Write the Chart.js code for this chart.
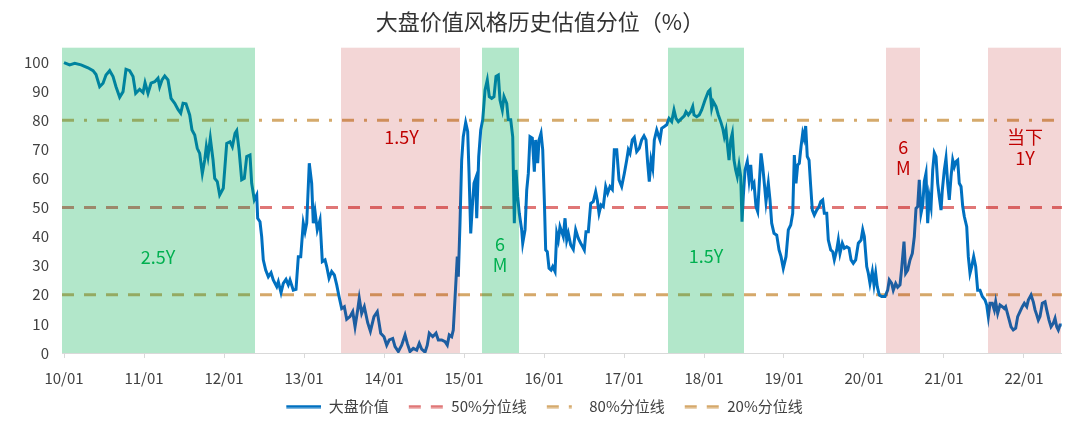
<!DOCTYPE html>
<html>
<head>
<meta charset="utf-8">
<script src="https://cdn.jsdelivr.net/npm/chart.js@4/dist/chart.umd.min.js"></script>
<style>
  html, body { margin: 0; padding: 0; background: #fff; }
  #wrap { width: 1080px; height: 433px; }
</style>
</head>
<body>
<div id="wrap"><canvas id="styleChart" width="1080" height="433"></canvas></div>
<script>
// x axis ticks (start of each year) and their labels
const yearTicks = [2010, 2011, 2012, 2013, 2014, 2015, 2016, 2017, 2018, 2019, 2020, 2021, 2022];
const tickLabels = ['10/01', '11/01', '12/01', '13/01', '14/01', '15/01', '16/01', '17/01', '18/01', '19/01', '20/01', '21/01', '22/01'];
const yTicks = [0, 10, 20, 30, 40, 50, 60, 70, 80, 90, 100];

// 大盘价值 valuation percentile, dates as fractional years
const dates = [
  2010.000, 2010.071, 2010.134, 2010.213, 2010.300, 2010.363, 2010.400, 2010.446, 2010.488, 2010.525, 2010.571, 2010.613, 2010.650, 2010.696, 2010.738, 2010.775, 2010.821, 2010.863, 2010.896, 2010.946, 2010.988,
  2011.013, 2011.050, 2011.088, 2011.134, 2011.175, 2011.196, 2011.225, 2011.259, 2011.300, 2011.338, 2011.384, 2011.425, 2011.459, 2011.488, 2011.525, 2011.571, 2011.600, 2011.634, 2011.666, 2011.696, 2011.729, 2011.759, 2011.779, 2011.800, 2011.829, 2011.863, 2011.884, 2011.916, 2011.946, 2011.991,
  2012.034, 2012.075, 2012.104, 2012.138, 2012.159, 2012.188, 2012.221, 2012.254, 2012.284, 2012.325, 2012.346, 2012.379, 2012.409, 2012.421, 2012.450, 2012.471, 2012.491, 2012.521, 2012.554, 2012.588, 2012.616, 2012.659, 2012.679, 2012.713, 2012.741, 2012.775, 2012.804, 2012.825, 2012.866, 2012.900, 2012.929, 2012.959, 2012.991,
  2013.013, 2013.034, 2013.066, 2013.096, 2013.116, 2013.138, 2013.166, 2013.200, 2013.229, 2013.263, 2013.284, 2013.313, 2013.346, 2013.379, 2013.409, 2013.438, 2013.471, 2013.504, 2013.534, 2013.575, 2013.609, 2013.638, 2013.671, 2013.691, 2013.721, 2013.754, 2013.796, 2013.830, 2013.875, 2013.916, 2013.959,
  2014.000, 2014.034, 2014.066, 2014.109, 2014.138, 2014.179, 2014.221, 2014.263, 2014.291, 2014.325, 2014.366, 2014.409, 2014.441, 2014.471, 2014.513, 2014.541, 2014.566, 2014.609, 2014.650, 2014.679, 2014.721, 2014.763, 2014.791, 2014.816, 2014.846, 2014.866, 2014.891, 2014.916, 2014.929, 2014.950, 2014.971, 2014.991,
  2015.021, 2015.046, 2015.063, 2015.084, 2015.104, 2015.125, 2015.146, 2015.159, 2015.184, 2015.209, 2015.234, 2015.263, 2015.291, 2015.316, 2015.346, 2015.375, 2015.400, 2015.429, 2015.450, 2015.479, 2015.500, 2015.534, 2015.554, 2015.584, 2015.609, 2015.629, 2015.650, 2015.671, 2015.691, 2015.721, 2015.734, 2015.763, 2015.784, 2015.804, 2015.825, 2015.854, 2015.879, 2015.896, 2015.921, 2015.938, 2015.963, 2015.984,
  2016.004, 2016.021, 2016.041, 2016.063, 2016.088, 2016.109, 2016.138, 2016.159, 2016.179, 2016.200, 2016.221, 2016.241, 2016.263, 2016.284, 2016.304, 2016.334, 2016.366, 2016.396, 2016.429, 2016.459, 2016.484, 2016.504, 2016.525, 2016.554, 2016.584, 2016.616, 2016.646, 2016.666, 2016.688, 2016.713, 2016.741, 2016.771, 2016.796, 2016.825, 2016.854, 2016.879, 2016.909, 2016.938, 2016.971,
  2017.004, 2017.034, 2017.054, 2017.075, 2017.104, 2017.129, 2017.159, 2017.191, 2017.221, 2017.250, 2017.275, 2017.296, 2017.316, 2017.338, 2017.359, 2017.379, 2017.409, 2017.429, 2017.450, 2017.471, 2017.504, 2017.534, 2017.563, 2017.596, 2017.625, 2017.650, 2017.679, 2017.721, 2017.754, 2017.775, 2017.804, 2017.834, 2017.859, 2017.875, 2017.909, 2017.941, 2017.971,
  2018.013, 2018.054, 2018.075, 2018.096, 2018.116, 2018.150, 2018.179, 2018.209, 2018.234, 2018.254, 2018.275, 2018.291, 2018.313, 2018.334, 2018.354, 2018.375, 2018.396, 2018.416, 2018.438, 2018.459, 2018.475, 2018.491, 2018.513, 2018.541, 2018.563, 2018.584, 2018.604, 2018.625, 2018.650, 2018.671, 2018.691, 2018.713, 2018.734, 2018.754, 2018.775, 2018.804, 2018.825, 2018.846, 2018.875, 2018.909, 2018.938, 2018.963, 2018.991,
  2019.025, 2019.054, 2019.084, 2019.109, 2019.129, 2019.150, 2019.171, 2019.191, 2019.213, 2019.234, 2019.250, 2019.271, 2019.291, 2019.313, 2019.334, 2019.354, 2019.379, 2019.409, 2019.438, 2019.459, 2019.484, 2019.504, 2019.534, 2019.554, 2019.584, 2019.609, 2019.629, 2019.659, 2019.679, 2019.700, 2019.729, 2019.754, 2019.784, 2019.813, 2019.838, 2019.866, 2019.896, 2019.929, 2019.963, 2019.984,
  2020.004, 2020.034, 2020.054, 2020.075, 2020.104, 2020.125, 2020.146, 2020.166, 2020.191, 2020.221, 2020.263, 2020.296, 2020.316, 2020.346, 2020.366, 2020.396, 2020.421, 2020.450, 2020.471, 2020.500, 2020.521, 2020.546, 2020.575, 2020.604, 2020.629, 2020.650, 2020.671, 2020.691, 2020.713, 2020.734, 2020.754, 2020.775, 2020.796, 2020.816, 2020.838, 2020.859, 2020.879, 2020.900, 2020.921, 2020.941, 2020.963, 2020.979,
  2021.004, 2021.025, 2021.046, 2021.066, 2021.088, 2021.109, 2021.129, 2021.150, 2021.171, 2021.191, 2021.213, 2021.234, 2021.254, 2021.284, 2021.304, 2021.325, 2021.346, 2021.371, 2021.396, 2021.421, 2021.450, 2021.479, 2021.513, 2021.534, 2021.554, 2021.575, 2021.604, 2021.629, 2021.646, 2021.671, 2021.700, 2021.729, 2021.754, 2021.771, 2021.804, 2021.838, 2021.866, 2021.896, 2021.921, 2021.950, 2021.979,
  2022.004, 2022.034, 2022.054, 2022.088, 2022.116, 2022.138, 2022.159, 2022.179, 2022.200, 2022.229, 2022.263, 2022.284, 2022.313, 2022.338, 2022.366, 2022.388, 2022.409, 2022.429, 2022.450, 2022.471
];
const valuePct = [
  99.8, 99, 99.5, 99, 98, 97, 95.7, 91.5, 92.7, 95.5, 97, 95, 91.5, 87.9, 89.8, 97.5, 97, 95, 89.2, 90.6, 89.5,
  92.9, 89.2, 92.7, 93.2, 94.4, 91.5, 93.8, 95.2, 93.8, 87.5, 85.8, 83.7, 82.4, 85.8, 85.6, 81.8, 76.6, 74.9, 70.3, 68.6, 61.7, 66.3, 70.9, 67.5, 73.8, 66.3, 60, 58.9, 54.3, 56.6,
  72, 72.6, 70.9, 75.5, 76.4, 69.8, 59.5, 60, 67.5, 68, 58.3, 52.6, 54.3, 46.3, 45.1, 40, 32, 28.5, 26.2, 27.6, 25.1, 22.8, 24.5, 20.7, 23.9, 25.3, 23.4, 25.1, 21.6, 21.9, 33.1, 33.1, 44.6,
  41.7, 44.6, 65.2, 58.3, 44.6, 48.6, 42.3, 45.7, 31.4, 32, 29.7, 25.7, 28, 26.8, 23.4, 19.4, 15.3, 15.9, 11.6, 12.5, 14.2, 9, 14.8, 18.8, 13.6, 15.9, 10.4, 7.5, 12.5, 14.2, 6.8,
  5.6, 2.7, 4.5, 5, 2.2, 0.5, 2.7, 6.2, 3.3, 0.5, 1.6, 1, 3.3, 1.3, 0.3, 2.7, 6.8, 5.6, 6.8, 4.5, 4.5, 3.9, 2.7, 6.2, 5.6, 7.9, 20.5, 33.1, 26.2, 44.6, 66.3, 74.3,
  79.2, 76.1, 61.7, 41.1, 50.3, 58.3, 60, 46.3, 67.5, 76.6, 80.1, 90.4, 93.8, 88.1, 87.5, 88.1, 95, 95.5, 86.9, 83.5, 88.1, 85.8, 80.1, 80.1, 74.3, 44.6, 62.9, 53.7, 48, 42.3, 37.7, 42.3, 56, 61.7, 74.3, 73.8, 62.3, 73.2, 65.2, 73.2, 75.5, 69.8,
  52.6, 35.4, 34.8, 29.1, 28.5, 29.7, 28, 41.1, 38.8, 43.4, 41.7, 40, 46.3, 38.8, 41.1, 37.1, 35.6, 42.3, 39.4, 37.7, 36.5, 35.4, 41.7, 41.7, 51.4, 52, 55.4, 52.6, 48, 50.9, 50.3, 57.2, 54.9, 57.2, 56.2, 69.8, 69.8, 59.5, 57.2,
  61.7, 66.3, 69.8, 68.6, 73.2, 74.1, 69.2, 70.3, 73.2, 74.6, 73.2, 65.2, 58.9, 66.3, 63.5, 73.2, 76.6, 74.9, 73.2, 77.2, 77.8, 78.4, 80.6, 79.5, 83.5, 80.6, 79.5, 80.6, 81.5, 82.9, 81.8, 82.9, 84.7, 81.8, 81.2, 81.8, 83.5,
  86.9, 89.8, 90.4, 84.1, 86.4, 84.7, 81.8, 79.5, 77.2, 74.3, 76.6, 72, 66.3, 73.2, 75.5, 66.3, 62.9, 60.6, 64.6, 60.6, 45.1, 53.7, 62.9, 65.8, 59.5, 64.6, 57.2, 58.3, 50.3, 48.6, 58.3, 68.6, 64, 58.3, 52, 58.3, 52.6, 44.6, 41.1, 40.5, 35.4, 33.1, 29.1,
  33.1, 42.3, 44, 48, 68, 58.3, 64.6, 65.2, 70.9, 75.5, 73.8, 78, 67.5, 66.3, 57.2, 49.1, 47.4, 49.1, 50.3, 52, 52.6, 48, 48, 38.8, 35.4, 34.8, 32, 35.4, 38.8, 34.2, 37.7, 36, 36.5, 36, 32, 30.8, 32, 37.7, 38.8, 42.3,
  40, 29.7, 27.4, 23.9, 28, 23.4, 27.4, 22.8, 19.9, 19.4, 19.4, 21.6, 25.1, 23.9, 21.6, 23.9, 22.6, 23.4, 29.1, 38.3, 27.4, 28.5, 32, 34.2, 40, 49.7, 50.3, 59.5, 48, 50.9, 58.9, 61.7, 44.6, 53.7, 50.3, 62.9, 68.8, 67.5, 58.3, 53.7, 49.1, 56,
  62.9, 66.9, 58.3, 52.6, 60.6, 66.3, 64, 65.8, 66.3, 58.3, 57.2, 50.3, 46.9, 43.4, 33.1, 27.4, 29.7, 33.1, 29.7, 21.6, 21.6, 19.4, 18.2, 16.5, 12.5, 17.1, 17.1, 14.8, 17.6, 13.6, 16.5, 15.9, 15.3, 15.9, 12.5, 9, 7.9, 8.5, 12.5, 14.2, 15.9,
  17.1, 15.9, 18.2, 19.9, 17.6, 14.8, 13.1, 11.3, 12.5, 17.1, 17.6, 14.8, 11.3, 9, 10.2, 11.9, 9, 7.9, 9.6, 9.6
];

// reference percentile lines
const refLevels = [50, 80, 20];
const refNames = ['50%分位线', '80%分位线', '20%分位线'];

// shaded style periods
const bandStart = [2009.975, 2013.4625, 2015.225, 2017.55, 2020.275, 2021.55];
const bandEnd = [2012.3875, 2014.95, 2015.6875, 2018.5, 2020.7, 2022.4625];
const bandKind = ['value', 'growth', 'value', 'value', 'growth', 'growth'];
const bandText = [['2.5Y'], ['1.5Y'], ['6', 'M'], ['1.5Y'], ['6', 'M'], ['当下', '1Y']];
const bandTextX = [2011.175, 2014.22, 2015.45, 2018.025, 2020.49, 2022.0125];
const bandTextY = [33, 74, 37.3, 33.4, 70.7, 74.1];

const xMin = 2009.975;
const plotEnd = 2022.475;   // where the plotted period ends
const xMax = 2022.7;        // axis extent to the canvas edge
const bandTop = 105;

const fontFamily = "'Noto Sans CJK SC', 'Noto Sans', sans-serif";
Chart.defaults.font.family = fontFamily;
Chart.defaults.color = '#404040';

// legend swatch: transparent lead-in, then the line sample
function makeSwatch(color, dash) {
  const c = document.createElement('canvas');
  c.width = 44;
  c.height = 4;
  const g = c.getContext('2d');
  g.strokeStyle = color;
  g.lineWidth = 3;
  g.setLineDash(dash);
  g.beginPath();
  g.moveTo(9, 2);
  g.lineTo(44, 2);
  g.stroke();
  return c;
}

const bandsPlugin = {
  id: 'bands',
  beforeDatasetsDraw(chart) {
    // x axis base line, only over the plotted period
    const { ctx, scales: { x, y } } = chart;
    ctx.save();
    ctx.strokeStyle = '#d9d9d9';
    ctx.lineWidth = 1;
    ctx.beginPath();
    const y0 = Math.round(y.getPixelForValue(0)) + 0.5;
    ctx.moveTo(x.getPixelForValue(xMin), y0);
    ctx.lineTo(x.getPixelForValue(plotEnd), y0);
    ctx.stroke();
    ctx.restore();
  },
  afterDatasetsDraw(chart) {
    const { ctx, chartArea, scales: { x, y } } = chart;
    ctx.save();
    ctx.beginPath();
    ctx.rect(chartArea.left, chartArea.top, chartArea.right - chartArea.left, chartArea.bottom - chartArea.top);
    ctx.clip();
    bandStart.forEach((s, i) => {
      const x1 = x.getPixelForValue(s);
      const x2 = x.getPixelForValue(bandEnd[i]);
      const y1 = y.getPixelForValue(bandTop);
      const y2 = y.getPixelForValue(0);
      ctx.fillStyle = bandKind[i] === 'value' ? 'rgba(0,176,80,0.30)' : 'rgba(180,0,0,0.16)';
      ctx.fillRect(x1, y1, x2 - x1, y2 - y1);
    });
    ctx.restore();

    ctx.save();
    ctx.font = '18px ' + fontFamily;
    ctx.textAlign = 'center';
    ctx.textBaseline = 'middle';
    bandText.forEach((lines, i) => {
      ctx.fillStyle = bandKind[i] === 'value' ? '#00B050' : '#C00000';
      const cx = x.getPixelForValue(bandTextX[i]);
      const cy = y.getPixelForValue(bandTextY[i]);
      lines.forEach((t, j) => ctx.fillText(t, cx, cy + j * 21));
    });
    ctx.restore();
  }
};

const refColors = ['#E07777', '#D5AA6C', '#D5A86A'];
const refDash = [[12, 10], [12, 10, 3, 10], [12, 10]];

const datasets = [{
  label: '大盘价值',
  data: dates.map((d, i) => ({ x: d, y: valuePct[i] })),
  borderColor: '#0070C0',
  backgroundColor: '#0070C0',
  borderWidth: 3,
  pointRadius: 0,
  pointStyle: makeSwatch('#0070C0', []),
  tension: 0
}];
refLevels.forEach((lv, i) => {
  datasets.push({
    label: refNames[i],
    data: [{ x: xMin, y: lv }, { x: plotEnd, y: lv }],
    borderColor: refColors[i],
    backgroundColor: refColors[i],
    borderWidth: 3,
    borderDash: refDash[i],
    pointRadius: 0,
    pointStyle: makeSwatch(refColors[i], refDash[i])
  });
});

new Chart(document.getElementById('styleChart').getContext('2d'), {
  type: 'line',
  data: { datasets },
  options: {
    responsive: false,
    animation: false,
    devicePixelRatio: 1,
    layout: { padding: { left: 0, right: 0, top: 0, bottom: 9 } },
    plugins: {
      title: {
        display: true,
        text: '大盘价值风格历史估值分位（%）',
        color: '#333',
        font: { size: 22, weight: 'normal' },
        padding: { top: 8, bottom: 13 }
      },
      legend: {
        position: 'bottom',
        labels: {
          usePointStyle: true,
          pointStyleWidth: 44,
          padding: 11,
          color: '#404040',
          font: { size: 15 }
        }
      },
      tooltip: { enabled: false }
    },
    scales: {
      x: {
        type: 'linear',
        min: xMin,
        max: xMax,
        afterBuildTicks: (scale) => { scale.ticks = yearTicks.map(v => ({ value: v })); },
        afterFit: (scale) => { scale.height = 35; },
        ticks: {
          autoSkip: false,
          maxRotation: 0,
          padding: 11,
          color: '#404040',
          font: { size: 15 },
          callback: (v) => tickLabels[yearTicks.indexOf(v)]
        },
        grid: { drawOnChartArea: false, drawTicks: true, tickLength: 5, color: '#d9d9d9' },
        border: { display: false }
      },
      y: {
        min: 0,
        max: bandTop,
        afterBuildTicks: (scale) => { scale.ticks = yTicks.map(v => ({ value: v })); },
        afterFit: (scale) => { scale.width = 62; },
        ticks: { padding: 13, color: '#404040', font: { size: 15 } },
        grid: { display: false, drawTicks: false, tickLength: 0 },
        border: { display: false }
      }
    }
  },
  plugins: [bandsPlugin]
});
</script>
</body>
</html>
